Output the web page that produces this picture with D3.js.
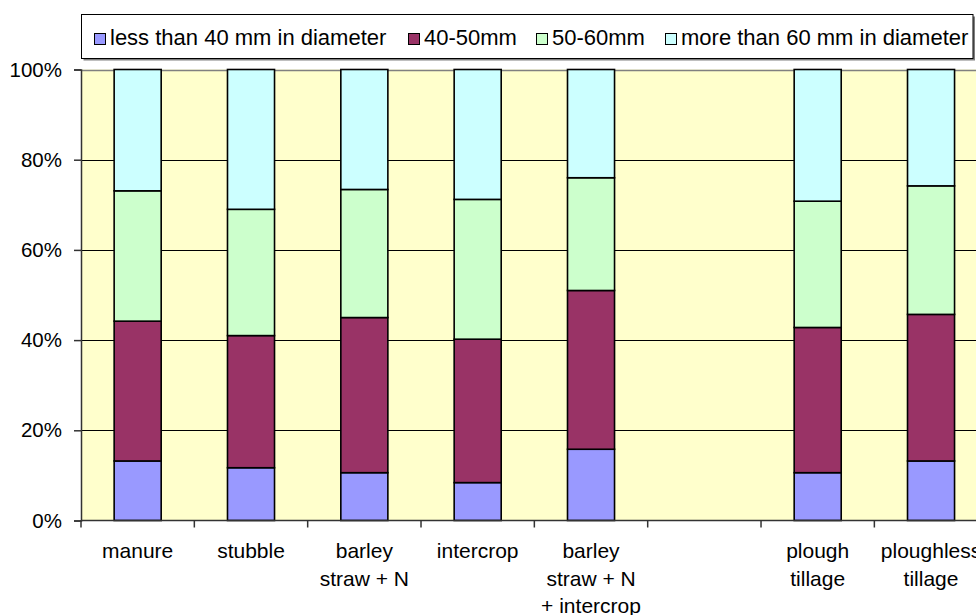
<!DOCTYPE html>
<html><head><meta charset="utf-8">
<script src="https://cdn.jsdelivr.net/npm/d3@7"></script>
<style>body{margin:0;background:#fff;overflow:hidden} svg{display:block}</style>
</head><body><svg id="chart" width="976" height="615"></svg>
<script>
// ---- data ----
const categories = ["manure", "stubble", "barley\nstraw + N", "intercrop", "barley\nstraw + N\n+ intercrop", "", "plough\ntillage", "ploughless\ntillage"];
const seriesNames = ["less than 40 mm in diameter", "40-50mm", "50-60mm", "more than 60 mm in diameter"];
const lessThan40 = [13.2, 11.7, 10.6, 8.4, 15.8, 0, 10.6, 13.2];
const from40to50 = [31.0, 29.3, 34.4, 31.8, 35.2, 0, 32.2, 32.5];
const from50to60 = [28.9, 28.0, 28.4, 31.0, 25.0, 0, 28.0, 28.5];
const moreThan60 = [26.9, 31.0, 26.6, 28.8, 24.0, 0, 29.2, 25.8];
const yTickValues = [0, 0.2, 0.4, 0.6, 0.8, 1];
const colors = ["#9999FF", "#993366", "#CCFFCC", "#CCFFFF"];

// ---- layout ----
const svg = d3.select("#chart");
const font = "'Liberation Sans', Arial, sans-serif";
const plot = {left: 81, top: 69.5, right: 987.7, bottom: 520.5};

const seriesArrays = [lessThan40, from40to50, from50to60, moreThan60];
const rows = categories.map((c, i) => {
  const r = {idx: i};
  seriesNames.forEach((s, k) => r[s] = seriesArrays[k][i]);
  return r;
});
const stacked = d3.stack().keys(seriesNames).offset(d3.stackOffsetExpand)(rows);

const idx = categories.map((c, i) => i);
const xBand = d3.scaleBand().domain(idx).range([plot.left, plot.right])
  .paddingInner(0.585).paddingOuter(0.2925);
const xSlots = d3.scaleBand().domain(idx).range([plot.left, plot.right]).padding(0);
const y = d3.scaleLinear().domain([0, 1]).range([plot.bottom, plot.top]);

// plot background
svg.append("rect").attr("x", plot.left).attr("y", plot.top)
  .attr("width", plot.right - plot.left).attr("height", plot.bottom - plot.top)
  .attr("fill", "#FFFFCC");

// gridlines
svg.append("g").selectAll("line").data(yTickValues.filter(v => v > 0 && v < 1)).join("line")
  .attr("x1", plot.left).attr("x2", plot.right)
  .attr("y1", d => Math.round(y(d)) + 0.5).attr("y2", d => Math.round(y(d)) + 0.5)
  .attr("stroke", "#000").attr("stroke-width", 1);
// top border
svg.append("line").attr("x1", plot.left).attr("x2", plot.right)
  .attr("y1", Math.round(plot.top) + 0.5).attr("y2", Math.round(plot.top) + 0.5)
  .attr("stroke", "#808080").attr("stroke-width", 1.5);

// bars
svg.append("g").selectAll("g").data(stacked).join("g")
  .attr("fill", (d, i) => colors[i])
  .selectAll("rect").data(d => d.filter(p => p[1] - p[0] > 0)).join("rect")
  .attr("x", d => xBand(d.data.idx))
  .attr("width", xBand.bandwidth())
  .attr("y", d => y(d[1]))
  .attr("height", d => y(d[0]) - y(d[1]))
  .attr("stroke", "#000").attr("stroke-width", 1.6);

// y axis
const yAxis = d3.axisLeft(y).tickValues(yTickValues).tickFormat(d3.format(".0%"))
  .tickSize(7).tickPadding(12);
const gy = svg.append("g").attr("transform", `translate(${plot.left},0)`).call(yAxis);
gy.select(".domain").attr("stroke", "#333").attr("stroke-width", 1.5);
gy.selectAll(".tick line").attr("stroke", "#333").attr("stroke-width", 1.5);
gy.selectAll(".tick text").attr("font-family", font).attr("font-size", 20.5).attr("fill", "#000");

// x axis line + ticks at slot boundaries
const gx = svg.append("g");
gx.append("line").attr("x1", plot.left).attr("x2", plot.right)
  .attr("y1", plot.bottom).attr("y2", plot.bottom)
  .attr("stroke", "#333").attr("stroke-width", 1.5);
gx.selectAll("line.tk").data(idx).join("line").attr("class", "tk")
  .attr("x1", d => xSlots(d)).attr("x2", d => xSlots(d))
  .attr("y1", plot.bottom).attr("y2", plot.bottom + 7)
  .attr("stroke", "#333").attr("stroke-width", 1.5);

// x labels
const lbl = svg.append("g").selectAll("text").data(idx).join("text")
  .attr("font-family", font).attr("font-size", 21).attr("fill", "#000")
  .attr("text-anchor", "middle")
  .attr("x", d => xBand(d) + xBand.bandwidth() / 2)
  .attr("y", plot.bottom + 37.5);
lbl.each(function(d) {
  const lines = categories[d].split("\n");
  d3.select(this).selectAll("tspan").data(lines).join("tspan")
    .attr("x", xBand(d) + xBand.bandwidth() / 2)
    .attr("dy", (t, i) => i === 0 ? 0 : 27.5)
    .text(t => t);
});

// legend
const lg = svg.append("g");
lg.append("rect").attr("x", 83.5).attr("y", 16.5).attr("width", 891.5).attr("height", 44)
  .attr("fill", "#808080");
lg.append("rect").attr("x", 81.5).attr("y", 14.5).attr("width", 891.5).attr("height", 44)
  .attr("fill", "#fff").attr("stroke", "#000").attr("stroke-width", 1);
const legendX = [94, 408, 536, 665];
seriesNames.forEach((s, i) => {
  lg.append("rect").attr("x", legendX[i] + 0.5).attr("y", 33.5).attr("width", 11).attr("height", 11)
    .attr("fill", colors[i]).attr("stroke", "#000").attr("stroke-width", 1);
  lg.append("text").attr("x", legendX[i] + 16).attr("y", 44.5)
    .attr("font-family", font).attr("font-size", 22).attr("fill", "#000").text(s);
});
</script></body></html>
